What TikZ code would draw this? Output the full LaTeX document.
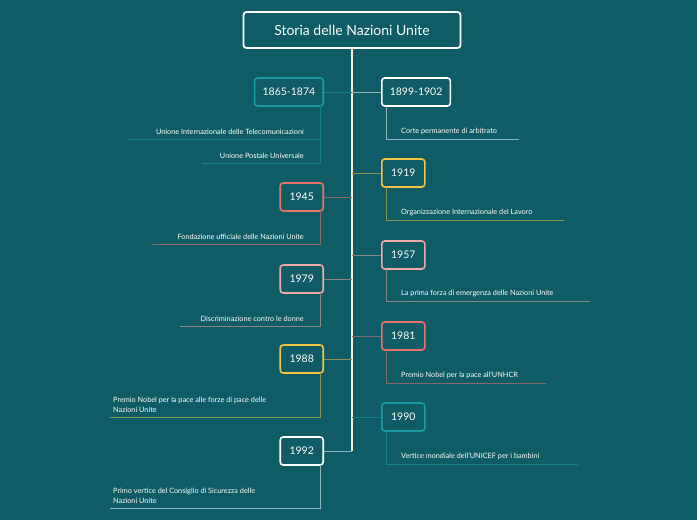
\documentclass[tikz,border=0pt]{standalone}
\usepackage{fontspec}
\setmainfont{Lato}
\definecolor{bg}{HTML}{0F5C66}
\definecolor{cteal}{HTML}{1A9AA6}
\definecolor{cwhite}{HTML}{FFFFFF}
\definecolor{cyel}{HTML}{F5C242}
\definecolor{cpink}{HTML}{F2A8A8}
\definecolor{cred}{HTML}{E8736B}
\begin{document}
\begin{tikzpicture}[x=1pt,y=-1pt,
  box/.style={draw=#1,line width=1.6pt,rounded corners=3pt,fill=bg,text=white,font=\fontsize{10.5}{12}\selectfont,minimum height=28pt,minimum width=43pt,inner xsep=8pt},
  lnk/.style={draw=#1!55!bg,line width=0.8pt},
  lbl/.style={text=white,font=\fontsize{7.3}{10.5}\selectfont,inner sep=0pt,align=left}]
\useasboundingbox[fill=bg] (0,0) rectangle (697,520);
\node[draw=white,line width=1.8pt,rounded corners=3pt,fill=bg,text=white,font=\fontsize{14}{16}\selectfont,minimum width=217pt,minimum height=36pt] (t) at (352,30) {Storia delle Nazioni Unite};
\coordinate (s) at (352,451);
\draw[line width=1.6pt,color=white!85!orange] (t.south) -- (s);
% left
\node[box=cteal,anchor=east] (a) at (324,92) {1865-1874};
\node[box=cred,anchor=east] (b) at (324,197) {1945};
\node[box=cpink,anchor=east] (c) at (324,279) {1979};
\node[box=cyel,anchor=east] (d) at (324,359) {1988};
\node[box=cwhite,anchor=east] (e) at (324,451) {1992};
% right
\node[box=cwhite,anchor=west] (f) at (381,92) {1899-1902};
\node[box=cyel,anchor=west] (g) at (381,173) {1919};
\node[box=cpink,anchor=west] (h) at (381,255) {1957};
\node[box=cred,anchor=west] (i) at (381,336) {1981};
\node[box=cteal,anchor=west] (j) at (381,417) {1990};
\foreach \n/\c in {a/cteal,b/cred,c/cpink,d/cyel,e/cwhite}{\draw[lnk=\c] (\n.east) -- (\n.east -| t.south);}
\foreach \n/\c in {f/cwhite,g/cyel,h/cpink,i/cred,j/cteal}{\draw[lnk=\c] (\n.west) -- (\n.west -| t.south);}
% left children
\node[lbl,anchor=south east] (a1) at (304,135) {Unione Internazionale delle Telecomunicazioni};
\node[lbl,anchor=south east] (a2) at (304,159) {Unione Postale Universale};
\draw[lnk=cteal] (320,106) -- (320,163) -- (202,163);
\draw[lnk=cteal] (320,139) -- (127,139);
\node[lbl,anchor=south east] (b1) at (304,240) {Fondazione ufficiale delle Nazioni Unite};
\draw[lnk=cred] (320,211) -- (320,244) -- (152,244);
\node[lbl,anchor=south east] (c1) at (304,322) {Discriminazione contro le donne};
\draw[lnk=cpink] (320,293) -- (320,326) -- (180,326);
\node[lbl,anchor=south west] (d1) at (113,413) {Premio Nobel per la pace alle forze di pace delle\\Nazioni Unite};
\draw[lnk=cyel] (320,373) -- (320,417) -- (110,417);
\node[lbl,anchor=south west] (e1) at (113,504) {Primo vertice del Consiglio di Sicurezza delle\\Nazioni Unite};
\draw[lnk=cwhite] (320,465) -- (320,508) -- (110,508);
% right children
\node[lbl,anchor=south west] (f1) at (401,135) {Corte permanente di arbitrato};
\draw[lnk=cwhite] (386,106) -- (386,139) -- (519,139);
\node[lbl,anchor=south west] (g1) at (401,216) {Organizzazione Internazionale del Lavoro};
\draw[lnk=cyel] (386,187) -- (386,220) -- (564,220);
\node[lbl,anchor=south west] (h1) at (401,297) {La prima forza di emergenza delle Nazioni Unite};
\draw[lnk=cpink] (386,269) -- (386,301) -- (590,301);
\node[lbl,anchor=south west] (i1) at (401,379) {Premio Nobel per la pace all'UNHCR};
\draw[lnk=cred] (386,350) -- (386,383) -- (546,383);
\node[lbl,anchor=south west] (j1) at (401,460) {Vertice mondiale dell'UNICEF per i bambini};
\draw[lnk=cteal] (386,431) -- (386,464) -- (578,464);
\end{tikzpicture}
\end{document}
